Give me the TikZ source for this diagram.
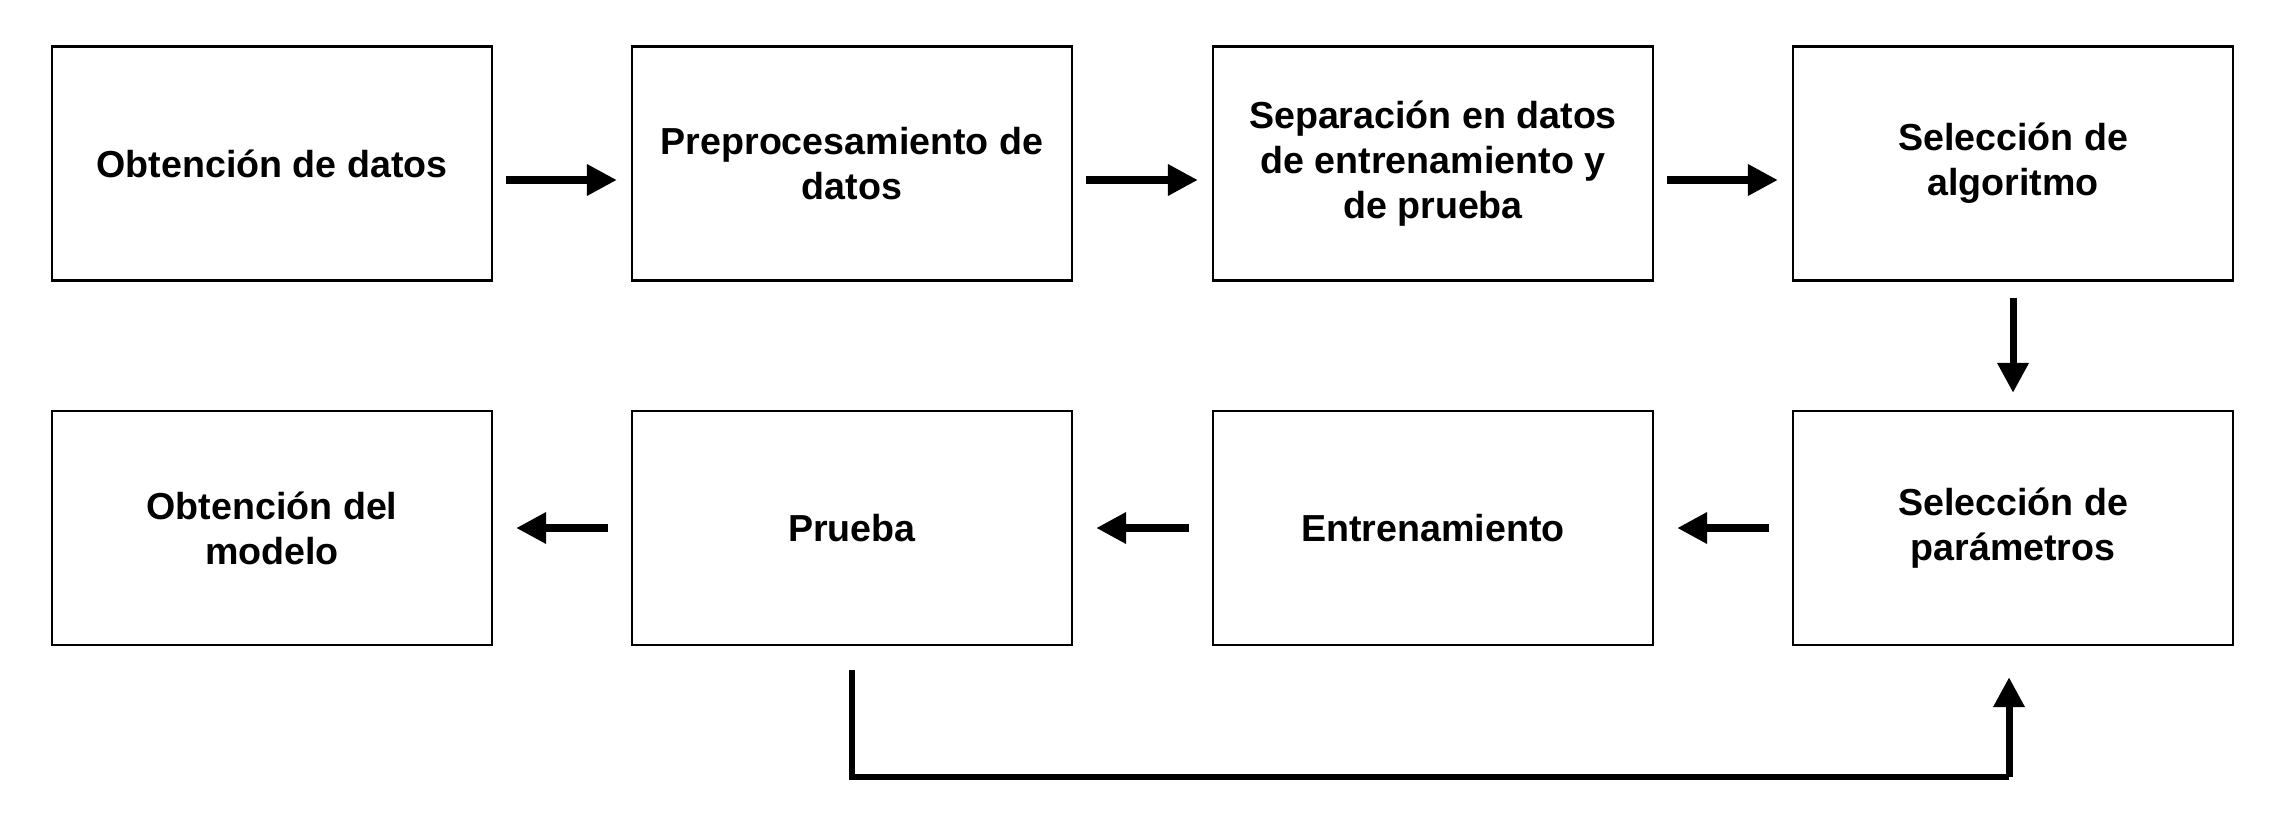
\documentclass[tikz,border=0pt]{standalone}
\usepackage{fontspec}
\setmainfont{Liberation Sans}
\usepackage{tikz}
\usetikzlibrary{positioning, arrows.meta, calc}
\tikzset{
  box/.style   ={draw, line width=0.7pt, align=center, inner sep=2pt,
                 minimum width=4.4cm, minimum height=2.34cm,
                 font=\fontsize{10.7}{12.8}\selectfont\bfseries, fill=white},
  flow/.style  ={-{Triangle[length=8.5pt, width=8.5pt]}, line width=2pt},
  back/.style  ={line width=1.8pt},
}

\begin{document}
\begin{tikzpicture}
  \useasboundingbox (0,0) rectangle (22.73,-8.14);
  % fila superior
  \node[box] (OD) at (2.72,-1.635)  {Obtención de datos};
  \node[box] (PP) at (8.52,-1.635)  {Preprocesamiento de\\ datos};
  \node[box] (SD) at (14.33,-1.635) {Separación en datos\\ de entrenamiento y\\ de prueba};
  \node[box] (SA) at (20.13,-1.635) {Selección de\\ algoritmo};
  % fila inferior
  \node[box] (SP) at (20.13,-5.28)  {Selección de\\ parámetros};
  \node[box] (EN) at (14.33,-5.28)  {Entrenamiento};
  \node[box] (PR) at (8.52,-5.28)   {Prueba};
  \node[box] (OM) at (2.72,-5.28)   {Obtención del\\ modelo};

  \draw[flow, shorten <=1.3mm, shorten >=1.4mm] ([yshift=-1.65mm]OD.east) -- ([yshift=-1.65mm]PP.west);
  \draw[flow, shorten <=1.3mm, shorten >=1.4mm] ([yshift=-1.65mm]PP.east) -- ([yshift=-1.65mm]SD.west);
  \draw[flow, shorten <=1.3mm, shorten >=1.4mm] ([yshift=-1.65mm]SD.east) -- ([yshift=-1.65mm]SA.west);
  \draw[flow, shorten <=1.6mm, shorten >=1.7mm] (SA) -- (SP);
  \draw[flow, shorten <=2.3mm, shorten >=2.3mm] (SP) -- (EN);
  \draw[flow, shorten <=2.3mm, shorten >=2.3mm] (EN) -- (PR);
  \draw[flow, shorten <=2.3mm, shorten >=2.3mm] (PR) -- (OM);
  % retroalimentacion
  \coordinate (c1) at ([yshift=-1.31cm]PR.south);
  \coordinate (c2) at ([xshift=-0.4mm]SP.south |- c1);
  \draw[back, shorten <=2.4mm] (PR.south) -- (c1) -- (c2);
  \draw[flow, shorten >=3.1mm] (c2) -- ([xshift=-0.4mm]SP.south);
\end{tikzpicture}
\end{document}
